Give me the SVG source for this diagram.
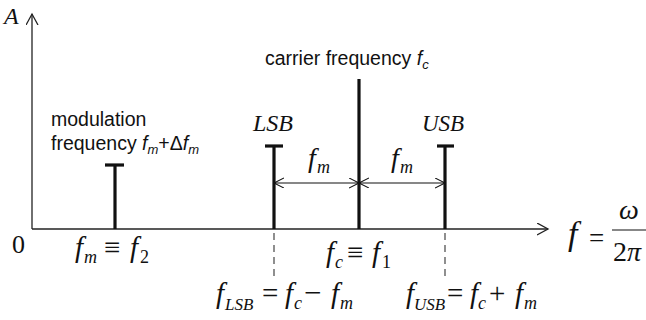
<svg xmlns="http://www.w3.org/2000/svg" width="646" height="320" viewBox="0 0 646 320">
<style>
.ax{stroke:#222;stroke-width:1.3;fill:none}
.ln{stroke:#111;stroke-width:3.2;fill:none}
.dim{stroke:#111;stroke-width:1.1;fill:none}
.dash{stroke:#333;stroke-width:1.1;stroke-dasharray:7,5;fill:none}
.m{font-family:"Liberation Serif","Times New Roman",serif;font-style:italic;fill:#111}
.u{font-family:"Liberation Serif","Times New Roman",serif;font-style:normal;fill:#111}
.s{font-family:"Liberation Sans",Arial,sans-serif;fill:#111;font-size:19.5px}
.si{font-style:italic}
.sb{font-size:18px}
.n{font-style:normal}
</style>
<defs>
<marker id="axh" markerUnits="userSpaceOnUse" markerWidth="14" markerHeight="14" refX="11" refY="6" orient="auto" viewBox="0 0 14 14">
<path d="M0,0 L11,6 L0,12" fill="none" stroke="#222" stroke-width="1.3"/>
</marker>
<marker id="dh" markerUnits="userSpaceOnUse" markerWidth="12" markerHeight="12" refX="10" refY="5" orient="auto-start-reverse" viewBox="0 0 12 12">
<path d="M0,0 L10,5 L0,10" fill="none" stroke="#111" stroke-width="1.1"/>
</marker>
</defs>

<g id="connectors">
<line class="ax" x1="32" y1="229" x2="32" y2="14" marker-end="url(#axh)"/>
<line class="ax" x1="32" y1="229" x2="548" y2="229" marker-end="url(#axh)"/>
<line class="dim" x1="274" y1="183" x2="359" y2="183" marker-start="url(#dh)" marker-end="url(#dh)"/>
<line class="dim" x1="359" y1="183" x2="445" y2="183" marker-start="url(#dh)" marker-end="url(#dh)"/>
<line class="dash" x1="274" y1="233" x2="274" y2="280"/>
<line class="dash" x1="445" y1="233" x2="445" y2="280"/>
</g>

<g id="axis-labels">
<text class="m" x="4" y="24" font-size="24">A</text>
<text class="u" x="12" y="253" font-size="26">0</text>
<g id="f-omega">
<text class="m" x="568" y="245" font-size="34">f</text>
<text class="u" x="589" y="247" font-size="27">=</text>
<line x1="612" y1="230" x2="646" y2="230" stroke="#111" stroke-width="1.2"/>
<text class="m" x="619" y="219" font-size="28">ω</text>
<text class="u" x="613" y="261" font-size="28">2<tspan font-style="italic">π</tspan></text>
</g>
</g>

<g id="modulation">
<line class="ln" x1="115" y1="229" x2="115" y2="165"/>
<line class="ln" x1="105" y1="165" x2="124" y2="165"/>
<text class="s" x="51" y="126">modulation</text>
<text class="s" x="51" y="150">frequency <tspan class="si">f</tspan><tspan class="si" font-size="13" dy="4">m</tspan><tspan dy="-4">+Δ</tspan><tspan class="si">f</tspan><tspan class="si" font-size="13" dy="4">m</tspan></text>
<text class="m" y="257" font-size="29"><tspan x="75">f</tspan><tspan class="sb" x="84" dy="6">m</tspan><tspan class="n" x="104" dy="-6">≡</tspan><tspan x="130">f</tspan><tspan class="sb n" x="140" dy="6">2</tspan></text>
</g>

<g id="lsb">
<line class="ln" x1="274" y1="229" x2="274" y2="146"/>
<line class="ln" x1="265" y1="146" x2="283" y2="146"/>
<text class="m" x="253" y="131" font-size="24">LSB</text>
<text class="m" y="303" font-size="29"><tspan x="216">f</tspan><tspan font-size="17" x="225" dy="7">LSB</tspan><tspan class="n" x="262" dy="-7">=</tspan><tspan x="285">f</tspan><tspan class="sb" x="294" dy="6">c</tspan><tspan class="n" x="304" dy="-6" font-size="31">−</tspan><tspan x="331">f</tspan><tspan class="sb" x="340" dy="6">m</tspan></text>
</g>

<g id="carrier">
<line class="ln" x1="359" y1="229" x2="359" y2="79"/>
<text class="s" x="265" y="65">carrier frequency <tspan class="si">f</tspan><tspan class="si" font-size="13" dy="4">c</tspan></text>
<text class="m" y="262" font-size="29"><tspan x="326">f</tspan><tspan class="sb" x="335" dy="6">c</tspan><tspan class="n" x="347" dy="-6">≡</tspan><tspan x="372">f</tspan><tspan class="sb n" x="382" dy="6">1</tspan></text>
</g>

<g id="usb">
<line class="ln" x1="445" y1="229" x2="445" y2="146"/>
<line class="ln" x1="437" y1="146" x2="454" y2="146"/>
<text class="m" x="422" y="131" font-size="23">USB</text>
<text class="m" y="303" font-size="29"><tspan x="406">f</tspan><tspan font-size="17" x="414" dy="7">USB</tspan><tspan class="n" x="447" dy="-7">=</tspan><tspan x="470">f</tspan><tspan class="sb" x="478" dy="6">c</tspan><tspan class="n" x="489" dy="-6">+</tspan><tspan x="515">f</tspan><tspan class="sb" x="524" dy="6">m</tspan></text>
</g>

<g id="spacing-labels">
<text class="m" y="167" font-size="28"><tspan x="308">f</tspan><tspan class="sb" x="317" dy="6">m</tspan></text>
<text class="m" y="167" font-size="28"><tspan x="391">f</tspan><tspan class="sb" x="400" dy="6">m</tspan></text>
</g>
</svg>
